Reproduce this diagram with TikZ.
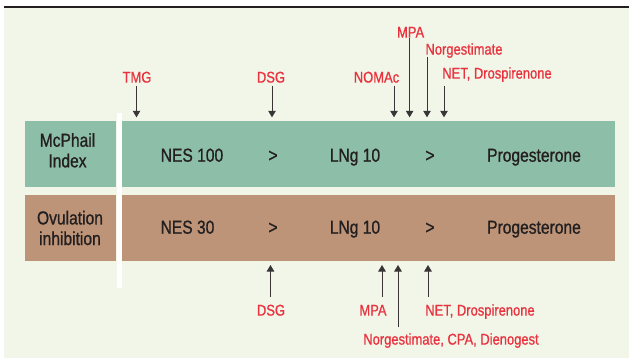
\documentclass[tikz,border=0pt]{standalone}
\usepackage{fontspec}
\setmainfont{Liberation Sans}[FakeStretch=0.83,UprightFeatures={FakeBold=0.9}]
\usetikzlibrary{positioning,arrows.meta}
\definecolor{paper}{HTML}{F2F6E9}
\definecolor{sage}{HTML}{8DBEA7}
\definecolor{clay}{HTML}{BD9477}
\definecolor{drugred}{HTML}{E8333F}
\definecolor{ink}{HTML}{231F20}
\tikzstyle{bar}=[inner sep=0,minimum height=66pt,anchor=north west]
\tikzstyle{item}=[text=ink,inner sep=0,text height=13.4pt,text depth=0pt,font=\fontsize{18.8}{20.6}\selectfont]
\tikzstyle{head}=[text=ink,inner sep=0,align=center,font=\fontsize{18.8}{20.6}\selectfont]
\tikzstyle{drug}=[text=drugred,inner sep=0,text height=11.2pt,text depth=0pt,font=\fontsize{15.6}{18}\selectfont]
\tikzstyle{pin}=[draw=ink!90,line width=0.9pt,-{Triangle[width=7.5pt,length=6.5pt]}]

\begin{document}
\begin{tikzpicture}[x=1pt,y=-1pt]
  \useasboundingbox (0,0) rectangle (629,358);
  \fill[paper] (4,8) rectangle (629,358);
  \draw[ink,line width=1.3pt] (4,7) -- (629,7);
  \draw[white,line width=5pt] (119.2,113) -- (119.2,288);

  \node(mcbox)[bar,fill=sage,minimum width=91pt] at (25,121) {};
  \node(mcrow)[bar,fill=sage,minimum width=493pt] at (122,121) {};
  \node(ovbox)[bar,fill=clay,minimum width=91pt] at (25,195) {};
  \node(ovrow)[bar,fill=clay,minimum width=493pt] at (122,195) {};

  \node(mchead)[head] at (67.5,150.3) {McPhail\\Index};
  \node(mcnes)[item] at (192,155) {NES 100};
  \node(mcgtA)[item] at (273,155) {>};
  \node(mclng)[item] at (355,155) {LNg 10};
  \node(mcgtB)[item] at (430,155) {>};
  \node(mcprog)[item] at (534,155) {Progesterone};

  \node(ovhead)[head] at (70,228) {Ovulation\\inhibition};
  \node(ovnes)[item] at (187.5,227) {NES 30};
  \node(ovgtA)[item] at (273,227) {>};
  \node(ovlng)[item] at (355,227) {LNg 10};
  \node(ovgtB)[item] at (430,227) {>};
  \node(ovprog)[item] at (534,227) {Progesterone};

  \node(tmg)[drug] at (137,77) {TMG};
  \node(dsgA)[drug] at (271,77) {DSG};
  \node(nomac)[drug] at (376.5,77) {NOMAc};
  \node(mpaA)[drug] at (410.6,32) {MPA};
  \node(ngmA)[drug] at (464,49) {Norgestimate};
  \node(netA)[drug] at (497,73) {NET, Drospirenone};

  \node(dsgB)[drug] at (271,310) {DSG};
  \node(mpaB)[drug] at (373,310) {MPA};
  \node(netB)[drug] at (480,310) {NET, Drospirenone};
  \node(ngmB)[drug] at (451,339) {Norgestimate, CPA, Dienogest};

  \coordinate(tmg-in) at (136.5,117.3);
  \coordinate(dsgA-in) at (272,117.3);
  \coordinate(nomac-in) at (394,117.3);
  \coordinate(mpaA-in) at (409.6,117.3);
  \coordinate(ngmA-in) at (427,117.3);
  \coordinate(netA-in) at (444,117.3);
  \coordinate(dsgB-in) at (270.5,265);
  \coordinate(mpaB-in) at (382,265);
  \coordinate(ngmB-in) at (398,265);
  \coordinate(netB-in) at (428,265);

  \draw[pin,shorten <=3.2pt] (tmg-in |- tmg.south) -- (tmg-in);
  \draw[pin,shorten <=3.2pt] (dsgA-in |- dsgA.south) -- (dsgA-in);
  \draw[pin,shorten <=3.2pt] (nomac-in |- nomac.south) -- (nomac-in);
  \draw[pin,shorten <=0.5pt] (mpaA-in |- mpaA.south) -- (mpaA-in);
  \draw[pin,shorten <=2.2pt] (ngmA-in |- ngmA.south) -- (ngmA-in);
  \draw[pin,shorten <=7.2pt] (netA-in |- netA.south) -- (netA-in);

  \draw[pin,shorten <=7.2pt] (dsgB-in |- dsgB.north) -- (dsgB-in);
  \draw[pin,shorten <=7.2pt] (mpaB-in |- mpaB.north) -- (mpaB-in);
  \draw[pin,shorten <=6.2pt] (ngmB-in |- ngmB.north) -- (ngmB-in);
  \draw[pin,shorten <=7.2pt] (netB-in |- netB.north) -- (netB-in);
\end{tikzpicture}
\end{document}
